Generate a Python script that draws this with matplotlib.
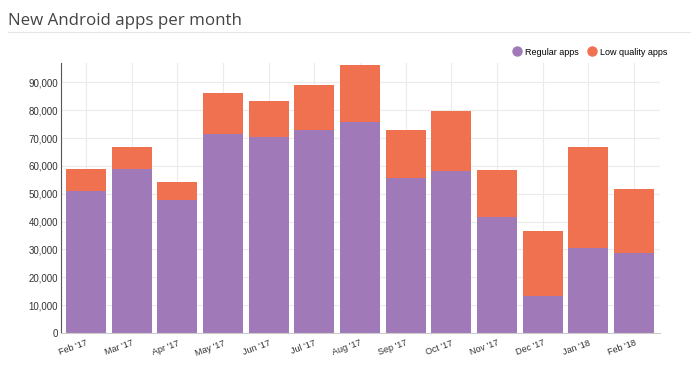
import matplotlib
matplotlib.use('Agg')
import matplotlib.pyplot as plt
from matplotlib.lines import Line2D
from matplotlib.ticker import FuncFormatter
import numpy as np

months = ["Feb '17", "Mar '17", "Apr '17", "May '17", "Jun '17", "Jul '17", "Aug '17",
          "Sep '17", "Oct '17", "Nov '17", "Dec '17", "Jan '18", "Feb '18"]
regular = [50900, 59000, 47700, 71500, 70400, 72900, 75800, 55500, 58300, 41600, 13200, 30600, 28800]
total = [59000, 66900, 54100, 86100, 83200, 88900, 96400, 72900, 79700, 58700, 36600, 66900, 51600]
low_quality = [t - r for t, r in zip(total, regular)]

PURPLE = '#a07ab8'
ORANGE = '#f07150'

plt.rcParams['font.family'] = ['Liberation Sans', 'DejaVu Sans']
fig = plt.figure(figsize=(7, 3.77), dpi=100)
ax = fig.add_axes([0.087, 0.117, 0.856, 0.716])

x = np.arange(len(months))
ax.bar(x, regular, width=0.88, color=PURPLE, zorder=2)
ax.bar(x, low_quality, bottom=regular, width=0.88, color=ORANGE, zorder=2)

ax.set_xlim(-0.55, len(months) - 0.43)
ax.set_ylim(0, 97000)
ax.set_yticks(np.arange(0, 90001, 10000))
ax.yaxis.set_major_formatter(FuncFormatter(lambda v, p: f'{int(v):,}'))
ax.set_xticks(x)
ax.set_xticklabels(months, rotation=20, ha='right', rotation_mode='anchor', fontsize=6.5, color='#333333')
ax.tick_params(axis='y', labelsize=7, colors='#333333', length=0, pad=2)
ax.tick_params(axis='x', length=0, pad=4)
ax.grid(True, color='#ebebeb', lw=0.8, zorder=0)
for s in ['top', 'right']:
    ax.spines[s].set_visible(False)
ax.spines['left'].set_color('#555555')
ax.spines['bottom'].set_color('#cccccc')
ax.spines['left'].set_linewidth(0.8)

fig.text(0.012, 0.945, 'New Android apps per month', fontsize=12.2, color='#444444',
         family=['Open Sans', 'DejaVu Sans'], va='center')
fig.add_artist(Line2D([0.012, 0.985], [0.915, 0.915], color='#e6e6e6', lw=0.8))

handles = [Line2D([], [], marker='o', ls='', color=PURPLE, ms=6.5),
           Line2D([], [], marker='o', ls='', color=ORANGE, ms=6.5)]
fig.legend(handles, ['Regular apps', 'Low quality apps'], loc='center right',
           bbox_to_anchor=(0.965, 0.862), ncol=2, frameon=False, fontsize=6.5,
           handletextpad=0.5, columnspacing=1.0, handlelength=0.8)

fig.savefig('out.png', dpi=100)
